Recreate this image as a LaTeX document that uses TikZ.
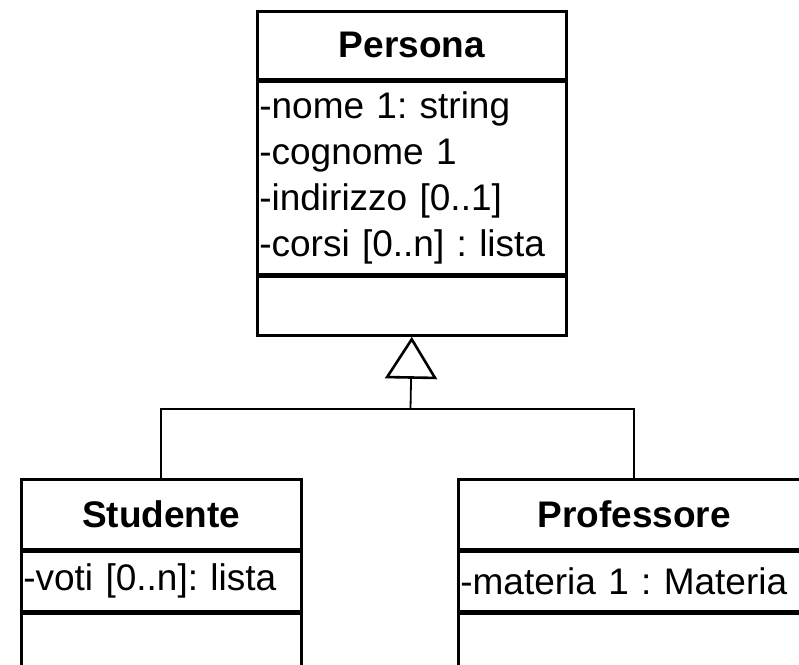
\documentclass[tikz,border=0pt]{standalone}
\usepackage{fontspec}
\setmainfont{Liberation Sans}
\frenchspacing
\usetikzlibrary{arrows.meta,positioning}
\begin{document}
\begin{tikzpicture}[x=1pt,y=-1pt,
  part/.style={draw=black,line width=2.6pt,rectangle,inner xsep=2pt,inner ysep=0pt,font=\fontsize{37}{46}\selectfont},
  head/.style={part,font=\fontsize{37}{46}\selectfont\bfseries,anchor=north west,align=center},
  attrs/.style={part,align=left},
  ops/.style={part},
  link/.style={line width=1.8pt,draw=black},
  inherit/.style={link,-{Triangle[open,length=42pt,width=52pt,line width=2.6pt]}}]
\useasboundingbox (0,0) rectangle (799,664);
\clip (0,0) rectangle (799,664);
% superclass
\node[head,minimum width=309pt,minimum height=68pt] (ph) at (256,10) {Persona};
\node[attrs,below=0pt of ph,text width=305pt,minimum height=192pt] (pa) {-nome 1: string\\-cognome 1\\-indirizzo [0..1]\\-corsi [0..n] : lista};
\node[ops,below=0pt of pa,minimum width=309pt,minimum height=59pt] (po) {};
% subclasses
\node[head,minimum width=280pt,minimum height=70pt] (sh) at (20,478) {Studente};
\node[attrs,below=0pt of sh,text width=276pt,minimum height=59pt] (sa) {-voti [0..n]: lista};
\node[ops,below=0pt of sa,minimum width=280pt,minimum height=100pt] (so) {};
\node[head,minimum width=352pt,minimum height=70pt] (fh) at (457,478) {Professore};
\node[attrs,below=0pt of fh,text width=348pt,minimum height=59pt] (fa) {-materia 1 : Materia};
\node[ops,below=0pt of fa,minimum width=352pt,minimum height=100pt] (fo) {};
% generalization
\coordinate (fork) at (410.5,409);
\draw[inherit] (fork) -- (po.south);
\draw[link] (sh.north) |- (fork) -| (fh.north);
\end{tikzpicture}
\end{document}
